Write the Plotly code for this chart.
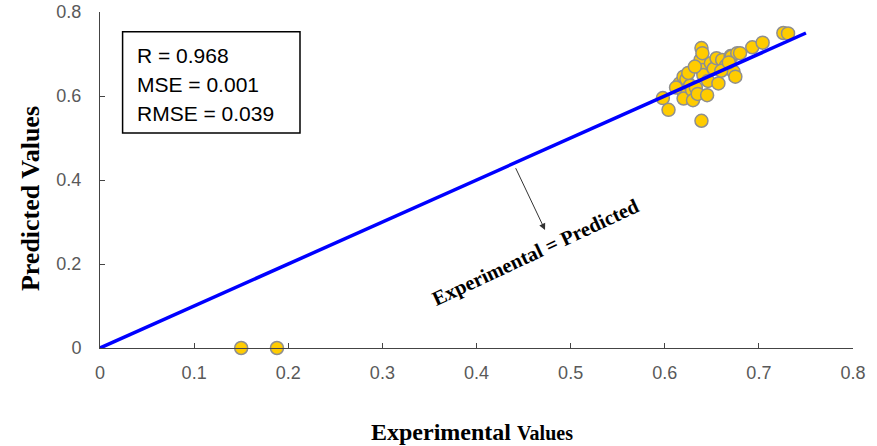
import plotly.graph_objects as go

# Experimental vs predicted values
experimental = [0.150, 0.188, 0.598, 0.604, 0.616, 0.620, 0.620, 0.620, 0.623, 0.627,
                0.629, 0.630, 0.633, 0.635, 0.638, 0.639, 0.640, 0.640, 0.641, 0.639,
                0.645, 0.646, 0.649, 0.652, 0.657, 0.655, 0.661, 0.665, 0.670, 0.671,
                0.673, 0.675, 0.677, 0.680, 0.693, 0.704, 0.726, 0.731, 0.625, 0.632,
                0.612, 0.660, 0.668]
predicted = [0.000, 0.000, 0.595, 0.567, 0.630, 0.646, 0.610, 0.594, 0.640, 0.625,
             0.614, 0.590, 0.620, 0.605, 0.686, 0.714, 0.702, 0.662, 0.650, 0.541,
             0.602, 0.636, 0.678, 0.665, 0.630, 0.690, 0.686, 0.672, 0.695, 0.694,
             0.658, 0.646, 0.702, 0.702, 0.716, 0.727, 0.750, 0.749, 0.655, 0.670,
             0.620, 0.660, 0.680]

# Identity line (Experimental = Predicted)
ident_x = [0.0, 0.75]
ident_y = [0.0, 0.75]

tick_vals = [0, 0.1, 0.2, 0.3, 0.4, 0.5, 0.6, 0.7, 0.8]
tick_text = ["0", "0.1", "0.2", "0.3", "0.4", "0.5", "0.6", "0.7", "0.8"]
ytick_vals = [0, 0.2, 0.4, 0.6, 0.8]
ytick_text = ["0", "0.2", "0.4", "0.6", "0.8"]

stats = ["R = 0.968", "MSE = 0.001", "RMSE = 0.039"]

fig = go.Figure()
fig.add_trace(go.Scatter(
    x=experimental, y=predicted, mode="markers", cliponaxis=False,
    marker=dict(size=13, color="#FFCC00", line=dict(color="#8f8f8f", width=1.5)),
    showlegend=False, hoverinfo="x+y"))
fig.add_trace(go.Scatter(
    x=ident_x, y=ident_y, mode="lines", cliponaxis=False,
    line=dict(color="#0000FF", width=3.5), showlegend=False))

axis_common = dict(
    showline=True, linecolor="#444444", linewidth=1,
    ticks="inside", ticklen=5, tickcolor="#444444", tickwidth=1,
    showgrid=False, zeroline=False, automargin=False,
    tickfont=dict(family="Liberation Sans, Arial, sans-serif", size=18, color="#595959"),
)
fig.update_xaxes(range=[0, 0.8], tickvals=tick_vals, ticktext=tick_text,
                 ticklabelstandoff=8, **axis_common)
fig.update_yaxes(range=[0, 0.8], tickvals=ytick_vals, ticktext=ytick_text,
                 ticklabelstandoff=14, **axis_common)

serif = "Liberation Serif, Times New Roman, serif"
annotations = [
    dict(xref="paper", yref="paper", x=0.494, y=-0.25, showarrow=False,
         text="<b>Experimental</b> <b><span style='font-size:20px'>Values</span></b>",
         font=dict(family=serif, size=24, color="black"),
         xanchor="center", yanchor="middle"),
    dict(xref="paper", yref="paper", x=-0.093, y=0.446, showarrow=False,
         text="<b>Predicted Values</b>", textangle=-90,
         font=dict(family=serif, size=26, color="black"),
         xanchor="center", yanchor="middle"),
    dict(xref="paper", yref="paper", x=0.579, y=0.283, showarrow=False,
         text="<b>Experimental = Predicted</b>", textangle=-25,
         font=dict(family=serif, size=20.5, color="black"),
         xanchor="center", yanchor="middle"),
    dict(xref="x", yref="y", axref="x", ayref="y", x=0.4728, y=0.281,
         ax=0.4409, ay=0.4317, text="", showarrow=True, arrowhead=2,
         arrowsize=1.3, arrowwidth=1, arrowcolor="#333333"),
]
stat_y = [0.872, 0.783, 0.699]
for txt, yy in zip(stats, stat_y):
    annotations.append(dict(xref="paper", yref="paper", x=0.0465, y=yy, showarrow=False,
                            text=txt, xanchor="left", yanchor="middle",
                            font=dict(family="Liberation Sans, Arial, sans-serif",
                                      size=21, color="black")))

fig.update_layout(
    width=877, height=446,
    margin=dict(l=100, r=24, t=12, b=98),
    paper_bgcolor="white", plot_bgcolor="white",
    annotations=annotations,
    shapes=[dict(type="rect", xref="paper", yref="paper",
                 x0=0.030, x1=0.2656, y0=0.640, y1=0.9414,
                 line=dict(color="black", width=1.5), fillcolor="rgba(0,0,0,0)")],
)

# Remove the browser's default 8px body margin so the figure fills the window exactly.
fig.write_html("out.html", config={"displayModeBar": False},
               post_script="document.body.style.margin='0';")
